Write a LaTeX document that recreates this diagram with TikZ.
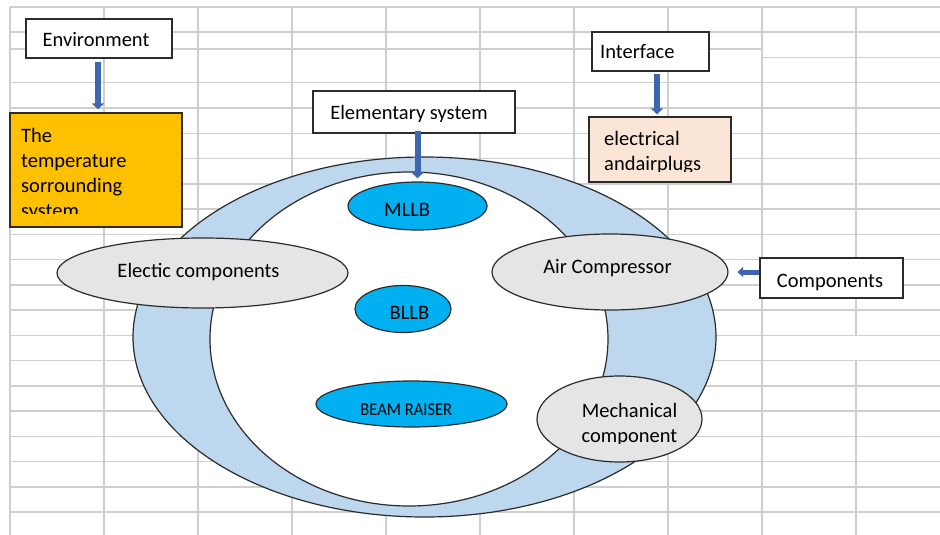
\documentclass[tikz,border=0pt]{standalone}
\usepackage{fontspec}
\setmainfont{Carlito}
\usetikzlibrary{shapes.geometric,arrows.meta}
\definecolor{gridgray}{HTML}{CFCFCF}
\definecolor{edgegray}{HTML}{2B2B2B}
\definecolor{ringblue}{HTML}{BDD7EE}
\definecolor{skyblue}{HTML}{00B0F0}
\definecolor{lightgray}{HTML}{E5E5E5}
\definecolor{amber}{HTML}{FFC000}
\definecolor{peach}{HTML}{FBE5D6}
\definecolor{arrowblue}{HTML}{3D65B0}
\tikzset{
  gridline/.style={draw=gridgray, line width=1.5pt},
  boxshape/.style={rectangle, draw=edgegray, line width=1.2pt, fill=white, inner sep=0pt},
  oval/.style={ellipse, draw=edgegray, line width=1.2pt, inner sep=0pt},
  txt/.style={inner sep=0pt, font=\fontsize{20.5}{25.3}\selectfont, text=black},
  bigarrow/.style={draw=arrowblue, line width=6pt, -{Triangle[width=12pt,length=6pt]}},
  smallarrow/.style={draw=arrowblue, line width=5pt, -{Triangle[width=10pt,length=5.5pt]}}
}
\begin{document}
\begin{tikzpicture}[x=1pt,y=-1pt]
\useasboundingbox (0,0) rectangle (940,535);
\fill[white] (0,0) rectangle (940,535);

% spreadsheet grid behind the diagram
\foreach \i in {0,1,3,4,...,20}{
  \pgfmathsetmacro{\yy}{7+25.25*\i}
  \draw[gridline] (10,\yy) -- (940,\yy);
}
\draw[gridline] (10,49) -- (762,49);
\draw[gridline] (762,57.5) -- (940,57.5);
\foreach \xx in {10,104,198,292,386,480,574,668,762}{
  \draw[gridline] (\xx,7) -- (\xx,535);
}
\draw[gridline] (856,7) -- (856,334.5);
\draw[gridline] (856,360) -- (856,535);

% environment side
\node[boxshape, minimum width=146pt, minimum height=39pt] (env) at (99,38.5) {};
\node[txt, anchor=base] (envtxt) at (96,47) {Environment};
\node[boxshape, fill=amber, minimum width=172pt, minimum height=114pt] (temp) at (96,170) {};
\begin{scope}
  \clip (10,113) rectangle (182,213);
  \node[txt, anchor=base west] (t1) at (21,142) {The};
  \node[txt, anchor=base west] (t2) at (21,167.3) {temperature};
  \node[txt, anchor=base west] (t3) at (21,192.6) {sorrounding};
  \node[txt, anchor=base west] (t4) at (21,217.9) {system};
\end{scope}

% the system ring
\node[oval, fill=ringblue, minimum width=583pt, minimum height=360pt] (outer) at (424.5,337) {};
\node[oval, fill=white, minimum width=398pt, minimum height=334pt] (inner) at (409,339) {};

% components on the ring
\node[oval, fill=lightgray, minimum width=291pt, minimum height=70pt] (elec) at (202.5,273) {};
\node[txt, anchor=base] (electxt) at (198.5,277) {Electic components};
\node[oval, fill=lightgray, minimum width=236pt, minimum height=76pt] (air) at (610,272) {};
\node[txt, anchor=base] (airtxt) at (607.5,273) {Air Compressor};
\node[oval, fill=lightgray, minimum width=165pt, minimum height=86pt] (mech) at (619.5,419) {};
\begin{scope}
  \clip (540,380) rectangle (700,443);
  \node[txt, anchor=base] (mech1) at (629.5,417) {Mechanical};
  \node[txt, anchor=base] (mech2) at (629.5,442.3) {component};
\end{scope}

% elementary sub-systems
\node[oval, fill=skyblue, minimum width=139pt, minimum height=48pt] (mllb) at (417.5,206) {};
\node[txt, anchor=base] (mllbtxt) at (407.2,216) {MLLB};
\node[oval, fill=skyblue, minimum width=96pt, minimum height=47pt] (bllb) at (403,309) {};
\node[txt, anchor=base] (bllbtxt) at (409.5,319) {BLLB};
\node[oval, fill=skyblue, minimum width=191pt, minimum height=46pt] (beam) at (411.5,404) {};
\node[txt, anchor=base, font=\fontsize{18}{22}\selectfont] (beamtxt) at (406.3,415) {\scalebox{0.92}[1]{BEAM RAISER}};

% elementary system label
\node[boxshape, minimum width=202pt, minimum height=42pt] (elem) at (414,112) {};
\begin{scope}
  \clip (313,91) rectangle (515,121);
  \node[txt, anchor=base] (elemtxt) at (409,119) {Elementary system};
\end{scope}

% interface side
\node[boxshape, minimum width=117pt, minimum height=39pt] (iface) at (650.5,51.5) {};
\node[txt, anchor=base west] (ifacetxt) at (600,59) {Interface};
\node[boxshape, fill=peach, minimum width=142pt, minimum height=65pt] (plugs) at (660,149.5) {};
\begin{scope}
  \clip (589,117) rectangle (731,171);
  \node[txt, anchor=base west] (p1) at (604,145) {electrical};
  \node[txt, anchor=base west] (p2) at (604,170.3) {andairplugs};
\end{scope}

% components label
\node[boxshape, minimum width=143pt, minimum height=40pt] (comp) at (831.5,278) {};
\node[txt, anchor=base] (comptxt) at (830,287) {Components};

% connectors
\coordinate (envx) at (98,0);
\coordinate (ifx) at (657,0);
\draw[bigarrow, shorten <=3pt, shorten >=3pt] (env.south -| envx) -- (temp.north -| envx);
\draw[bigarrow, shorten <=-3pt, shorten >=3pt] (elem.south -| mllb.north) -- (mllb.north);
\draw[bigarrow, shorten <=2pt, shorten >=2pt] (iface.south -| ifx) -- (plugs.north -| ifx);
\draw[smallarrow, shorten >=9pt] (comp.west |- air.east) -- (air.east);
\end{tikzpicture}
\end{document}
